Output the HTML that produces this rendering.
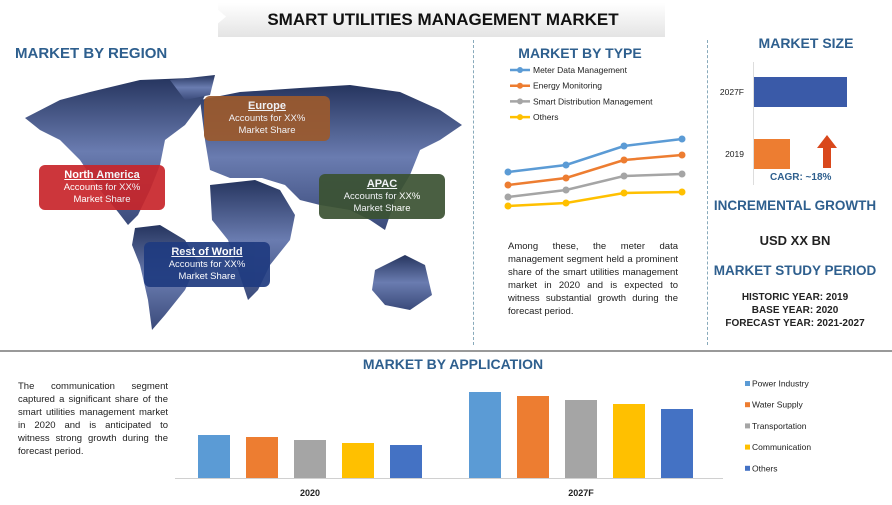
<!DOCTYPE html>
<html><head><meta charset="utf-8"><style>
*{margin:0;padding:0;box-sizing:border-box}
body{width:892px;height:505px;background:#fff;font-family:"Liberation Sans",sans-serif;position:relative;overflow:hidden}
.abs{position:absolute}
.h{color:#2e5f8e;font-weight:bold;white-space:nowrap}
.box{position:absolute;width:126px;height:45px;border-radius:6px;color:#fff;text-align:center;font-size:9.5px;line-height:12px;padding-top:3px;opacity:.92}
.box b{text-decoration:underline;font-size:11px;display:block;line-height:14px}
.para{font-size:9.5px;line-height:13px;text-align:justify;color:#222}
.bold{font-weight:bold;font-size:10px;color:#222;white-space:nowrap;text-align:center}
</style></head><body>
<div class="abs" style="left:218px;top:3px;width:447px;height:34px;background:linear-gradient(#fff,#e4e4e4);box-shadow:1px 2px 3px #bbb;clip-path:polygon(0 0,100% 0,100% 100%,0 100%,0 60%,8px 40%,0 20%)"></div>
<div class="abs" style="left:218px;top:10px;width:450px;text-align:center;font-weight:bold;font-size:17px;color:#111">SMART UTILITIES MANAGEMENT MARKET</div>

<div class="abs h" style="left:15px;top:45px;font-size:15px">MARKET BY REGION</div>
<svg class="abs" style="left:0;top:0" width="892" height="505">
<defs><linearGradient id="mg" x1="0" y1="0" x2="0" y2="1"><stop offset="0" stop-color="#26355f"/><stop offset=".5" stop-color="#6a7cb0"/><stop offset="1" stop-color="#3a4a7a"/></linearGradient></defs>
<g fill="url(#mg)">
<path d="M25,118 L60,100 L90,92 L140,80 L190,78 L212,82 L200,105 L185,125 L165,140 L160,165 L150,190 L138,215 L128,225 L118,212 L100,190 L80,160 L60,140 L40,130Z"/>
<path d="M135,228 L160,225 L185,240 L198,262 L185,290 L165,315 L152,330 L148,300 L140,265 L132,245Z"/>
<path d="M200,100 L240,92 L300,88 L350,85 L400,92 L440,110 L462,125 L440,140 L420,150 L410,175 L395,200 L385,230 L370,220 L350,210 L320,205 L300,200 L285,185 L262,178 L230,178 L210,170 L205,140Z"/>
<path d="M210,185 L255,180 L280,190 L295,215 L290,240 L270,265 L258,290 L248,300 L238,270 L228,240 L212,220Z"/>
<path d="M375,270 L405,255 L425,265 L432,295 L410,310 L385,305 L372,290Z"/>
<path d="M170,80 L215,75 L210,95 L185,100Z"/>
</g></svg>
<div class="box" style="left:204px;top:96px;background:#9c5a2d"><b>Europe</b>Accounts for XX%<br>Market Share</div>
<div class="box" style="left:39px;top:165px;background:#c8262b"><b>North America</b>Accounts for XX%<br>Market Share</div>
<div class="box" style="left:319px;top:174px;background:#3b5232"><b>APAC</b>Accounts for XX%<br>Market Share</div>
<div class="box" style="left:144px;top:242px;background:#1f3b80"><b>Rest of World</b>Accounts for XX%<br>Market Share</div>

<div class="abs" style="left:473px;top:40px;height:305px;border-left:1px dashed #8ab"></div>
<div class="abs" style="left:707px;top:40px;height:305px;border-left:1px dashed #8ab"></div>
<div class="abs" style="left:0;top:350px;width:892px;border-top:2px solid #999"></div>

<div class="abs h" style="left:480px;top:45px;width:200px;text-align:center;font-size:14px">MARKET BY TYPE</div>
<svg class="abs" style="left:0;top:0" width="892" height="505" id="typeSvg"></svg>
<div class="abs para" style="left:508px;top:240px;width:170px">Among these, the meter data management segment held a prominent share of the smart utilities management market in 2020 and is expected to witness substantial growth during the forecast period.</div>

<div class="abs h" style="left:710px;top:35px;width:192px;text-align:center;font-size:14px">MARKET SIZE</div>
<svg class="abs" style="left:0;top:0" width="892" height="505" id="sizeSvg"></svg>
<div class="abs h" style="left:770px;top:172px;font-size:10px">CAGR: ~18%</div>
<div class="abs h" style="left:710px;top:198px;width:170px;text-align:center;font-size:13.5px">INCREMENTAL GROWTH</div>
<div class="abs bold" style="left:710px;top:233px;width:170px;font-size:13px">USD XX BN</div>
<div class="abs h" style="left:710px;top:263px;width:170px;text-align:center;font-size:13.5px">MARKET STUDY PERIOD</div>
<div class="abs bold" style="left:710px;top:292px;width:170px">HISTORIC YEAR: 2019</div>
<div class="abs bold" style="left:710px;top:305px;width:170px">BASE YEAR: 2020</div>
<div class="abs bold" style="left:710px;top:318px;width:170px">FORECAST YEAR: 2021-2027</div>

<div class="abs h" style="left:320px;top:356px;width:266px;text-align:center;font-size:14px">MARKET BY APPLICATION</div>
<div class="abs para" style="left:18px;top:380px;width:150px">The communication segment captured a significant share of the smart utilities management market in 2020 and is anticipated to witness strong growth during the forecast period.</div>
<svg class="abs" style="left:0;top:0" width="892" height="505" id="appSvg"></svg>

<script>
const NS="http://www.w3.org/2000/svg";
const typeNames=["Meter Data Management","Energy Monitoring","Smart Distribution Management","Others"];
const typeColors=["#5b9bd5","#ed7d31","#a5a5a5","#ffc000"];
const typeX=[0,1,2,3];
const typeBlue=[43,50,69,76];
const typeOrange=[30,37,55,60];
const typeGray=[18,25,39,41];
const typeYellow=[9,12,22,23];
const sizeCats=["2027F","2019"];
const sizeVals=[93,36];
const appCats=["2020","2027F"];
const appSeries=["Power Industry","Water Supply","Transportation","Communication","Others"];
const appColors=["#5b9bd5","#ed7d31","#a5a5a5","#ffc000","#4472c4"];
const app2020=[43,41,38,35,33];
const app2027=[86,82,78,74,69];

function mk(svg,tag,attrs){const e=document.createElementNS(NS,tag);for(const k in attrs)e.setAttribute(k,attrs[k]);svg.appendChild(e);return e;}
const ts=document.getElementById('typeSvg');
const tx=i=>508+i*58, ty=v=>215-v;
[typeBlue,typeOrange,typeGray,typeYellow].forEach((ser,s)=>{
  const ly=70+s*15.7;
  const ll=mk(ts,'line',{x1:510,x2:530,y1:ly,y2:ly,stroke:typeColors[s],'stroke-width':2.5});
  
  
  mk(ts,'circle',{cx:520,cy:ly,r:3,fill:typeColors[s]});
  const lt=mk(ts,'text',{x:533,y:ly+3,'font-size':8.5,fill:'#222','font-family':'Liberation Sans'});
  lt.textContent=typeNames[s];
  
  
  const p=mk(ts,'polyline',{points:ser.map((v,i)=>tx(typeX[i])+','+ty(v)).join(' '),fill:'none',stroke:typeColors[s],'stroke-width':2.5});
  
  
  ser.forEach((v,i)=>{const c=mk(ts,'circle',{cx:tx(typeX[i]),cy:ty(v),r:3.5,fill:typeColors[s]});
    
    });
});
const ss=document.getElementById('sizeSvg');
mk(ss,'line',{x1:753.5,x2:753.5,y1:62,y2:185,stroke:'#ddd'});
const sizeCols=["#3a5aa8","#ed7d31"];
sizeCats.forEach((c,i)=>{
  const y=i?139:77;
  const r=mk(ss,'rect',{x:754,y:y,width:sizeVals[i],height:30,fill:sizeCols[i]});
  
  
  const t=mk(ss,'text',{x:744,y:y+18,'font-size':8.5,'text-anchor':'end',fill:'#222','font-family':'Liberation Sans'});
  t.textContent=c;
});
const ar=mk(ss,'polygon',{points:'827,135 837,148 831,148 831,168 823,168 823,148 817,148',fill:'#d9481c'});


const as=document.getElementById('appSvg');
const base=478, scale=1;
mk(as,'line',{x1:175,x2:723,y1:base+0.5,y2:base+0.5,stroke:'#d0d0d0'});
const groupStart=[198,469];
[app2020,app2027].forEach((ser,g)=>{
  ser.forEach((v,i)=>{
    const x=groupStart[g]+i*48;
    const b=mk(as,'rect',{x:x,y:base-v*scale,width:32,height:v*scale,fill:appColors[i]});
    
    
  });
  const t=mk(as,'text',{x:groupStart[g]+112,y:496,'font-size':9,'text-anchor':'middle',fill:'#222','font-weight':'bold','font-family':'Liberation Sans'});
  t.textContent=appCats[g];
  
  
});
appSeries.forEach((n,i)=>{
  const y=385+i*21.2;
  mk(as,'rect',{x:745,y:y-4,width:5,height:5,fill:appColors[i]});
  const t=mk(as,'text',{x:752,y:y+1.5,'font-size':8.5,fill:'#222','font-family':'Liberation Sans'});
  t.textContent=n;
  
  
});
</script>
</body></html>
